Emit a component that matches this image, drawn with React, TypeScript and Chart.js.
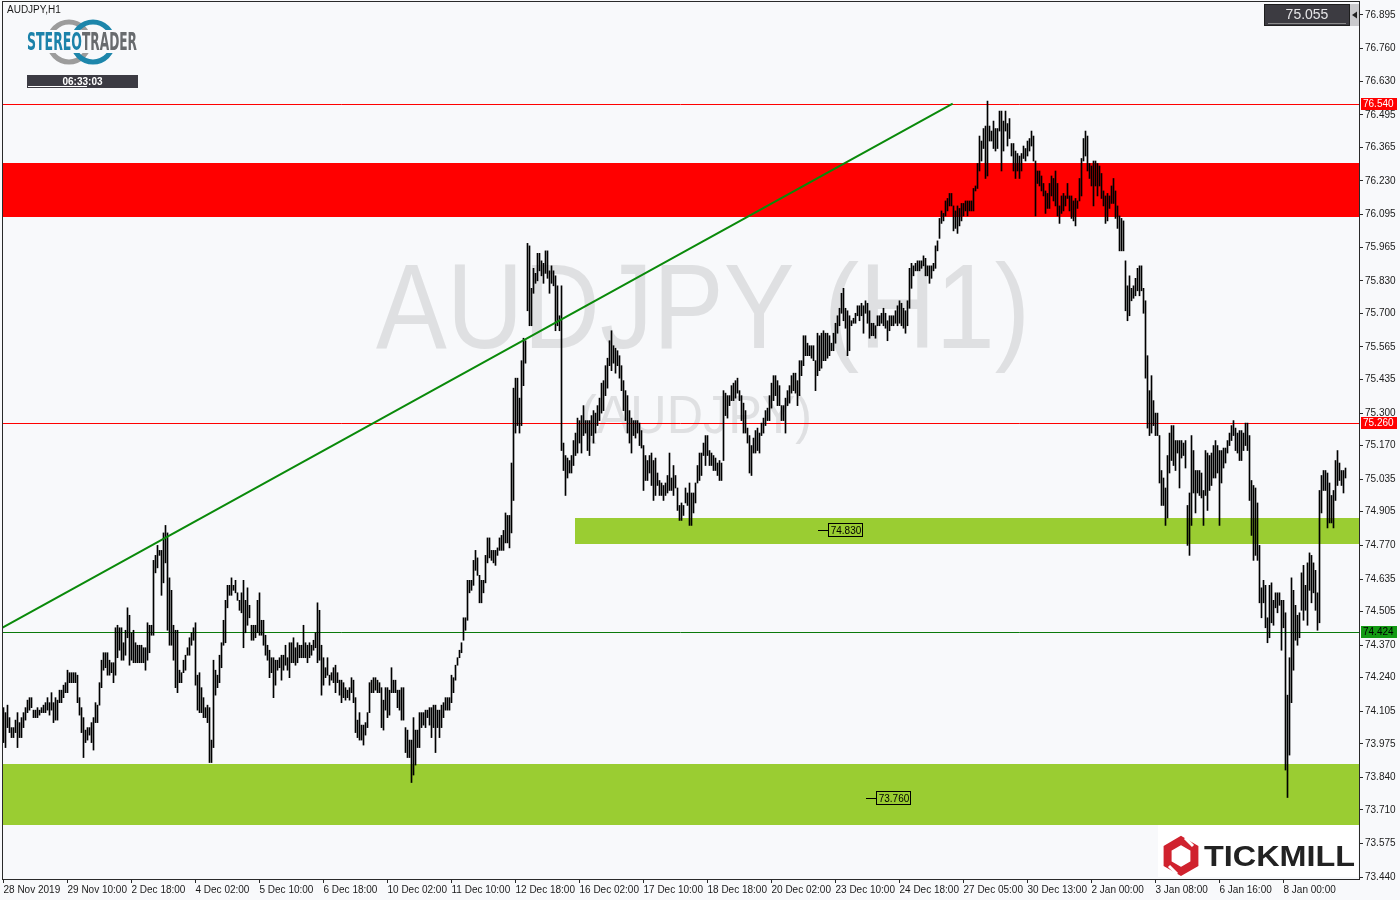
import React, { useEffect, useRef } from 'react';
import { Chart, registerables } from 'chart.js';

Chart.register(...registerables);

const BG = '#f8f9fb';
const FONT = '"Liberation Sans", Arial, sans-serif';

// x-axis tick labels, one every 32 hourly bars
const X_LABELS = [
  '28 Nov 2019', '29 Nov 10:00', '2 Dec 18:00', '4 Dec 02:00', '5 Dec 10:00', '6 Dec 18:00',
  '10 Dec 02:00', '11 Dec 10:00', '12 Dec 18:00', '16 Dec 02:00', '17 Dec 10:00', '18 Dec 18:00',
  '20 Dec 02:00', '23 Dec 10:00', '24 Dec 18:00', '27 Dec 05:00', '30 Dec 13:00', '2 Jan 00:00',
  '3 Jan 08:00', '6 Jan 16:00', '8 Jan 00:00',
];
const X_LABEL_BARS = [0, 32, 64, 96, 128, 160, 192, 224, 256, 288, 320, 352, 384, 416, 448, 480, 512, 544, 576, 608, 640];

// y-axis tick labels (price scale)
const Y_LABELS = [
  '76.895', '76.760', '76.630', '76.495', '76.365', '76.230', '76.095', '75.965', '75.830',
  '75.700', '75.565', '75.435', '75.300', '75.170', '75.035', '74.905', '74.770', '74.635',
  '74.505', '74.370', '74.240', '74.105', '73.975', '73.840', '73.710', '73.575', '73.440',
];

// H1 bar highs
const HI = [
  74.12, 74.10, 74.13, 74.08, 74.04, 74.04, 74.07, 74.10, 74.06, 74.08,
  74.10, 74.12, 74.15, 74.16, 74.16, 74.11, 74.11, 74.12, 74.11, 74.12,
  74.13, 74.14, 74.16, 74.14, 74.18, 74.14, 74.16, 74.15, 74.19, 74.19,
  74.21, 74.22, 74.27, 74.26, 74.26, 74.26, 74.26, 74.25, 74.16, 74.12,
  74.08, 74.03, 74.04, 74.04, 74.06, 74.08, 74.14, 74.13, 74.22, 74.31,
  74.34, 74.34, 74.34, 74.31, 74.30, 74.30, 74.44, 74.45, 74.44, 74.44,
  74.38, 74.43, 74.52, 74.49, 74.42, 74.43, 74.38, 74.37, 74.37, 74.37,
  74.36, 74.36, 74.46, 74.45, 74.45, 74.71, 74.73, 74.77, 74.75, 74.75,
  74.82, 74.85, 74.82, 74.64, 74.59, 74.45, 74.43, 74.43, 74.27, 74.26,
  74.31, 74.33, 74.36, 74.40, 74.42, 74.44, 74.46, 74.25, 74.26, 74.20,
  74.16, 74.12, 74.13, 74.12, 73.99, 74.31, 74.27, 74.25, 74.33, 74.38,
  74.47, 74.55, 74.61, 74.61, 74.64, 74.61, 74.63, 74.58, 74.55, 74.58,
  74.63, 74.55, 74.60, 74.53, 74.45, 74.45, 74.45, 74.55, 74.58, 74.47,
  74.47, 74.41, 74.37, 74.35, 74.32, 74.32, 74.31, 74.31, 74.32, 74.33,
  74.33, 74.37, 74.32, 74.38, 74.38, 74.40, 74.36, 74.38, 74.37, 74.37,
  74.45, 74.38, 74.37, 74.38, 74.37, 74.39, 74.42, 74.54, 74.51, 74.37,
  74.32, 74.28, 74.32, 74.25, 74.26, 74.28, 74.29, 74.26, 74.23, 74.23,
  74.22, 74.20, 74.19, 74.20, 74.24, 74.23, 74.16, 74.07, 74.10, 74.05,
  74.05, 74.06, 74.10, 74.22, 74.23, 74.24, 74.24, 74.23, 74.22, 74.20,
  74.15, 74.20, 74.20, 74.19, 74.28, 74.23, 74.23, 74.19, 74.19, 74.20,
  74.20, 74.04, 74.03, 73.99, 73.99, 74.08, 74.03, 74.03, 74.10, 74.10,
  74.10, 74.11, 74.11, 74.12, 74.12, 74.13, 74.13, 74.11, 74.11, 74.13,
  74.14, 74.16, 74.16, 74.16, 74.25, 74.24, 74.29, 74.32, 74.35, 74.38,
  74.48, 74.48, 74.63, 74.63, 74.63, 74.71, 74.75, 74.72, 74.65, 74.63,
  74.63, 74.73, 74.80, 74.80, 74.75, 74.75, 74.75, 74.76, 74.80, 74.81,
  74.83, 74.90, 74.89, 74.89, 75.10, 75.40, 75.44, 75.44, 75.36, 75.51,
  75.60, 75.59, 75.98, 75.97, 75.80, 75.88, 75.86, 75.94, 75.94, 75.91,
  75.90, 75.95, 75.95, 75.87, 75.89, 75.87, 75.85, 75.81, 75.69, 75.81,
  75.18, 75.13, 75.12, 75.11, 75.13, 75.19, 75.22, 75.28, 75.27, 75.29,
  75.33, 75.27, 75.27, 75.27, 75.29, 75.31, 75.30, 75.33, 75.36, 75.42,
  75.43, 75.49, 75.52, 75.59, 75.63, 75.57, 75.56, 75.55, 75.53, 75.49,
  75.43, 75.39, 75.37, 75.31, 75.28, 75.27, 75.27, 75.27, 75.26, 75.23,
  75.17, 75.13, 75.11, 75.13, 75.14, 75.11, 75.12, 75.06, 75.03, 75.02,
  75.01, 75.02, 75.05, 75.14, 75.04, 75.09, 75.05, 75.00, 74.93, 74.94,
  74.93, 75.00, 74.98, 75.02, 74.98, 74.98, 75.02, 75.09, 75.14, 75.14,
  75.18, 75.21, 75.21, 75.15, 75.14, 75.13, 75.12, 75.10, 75.11, 75.10,
  75.39, 75.38, 75.37, 75.37, 75.41, 75.42, 75.43, 75.44, 75.39, 75.37,
  75.34, 75.31, 75.24, 75.21, 75.17, 75.20, 75.23, 75.24, 75.22, 75.26,
  75.28, 75.31, 75.32, 75.37, 75.42, 75.45, 75.45, 75.43, 75.41, 75.33,
  75.33, 75.36, 75.39, 75.41, 75.45, 75.46, 75.46, 75.43, 75.51, 75.51,
  75.61, 75.61, 75.58, 75.57, 75.57, 75.57, 75.51, 75.62, 75.61, 75.62,
  75.63, 75.62, 75.62, 75.61, 75.58, 75.62, 75.66, 75.69, 75.72, 75.78,
  75.80, 75.72, 75.71, 75.69, 75.67, 75.68, 75.70, 75.73, 75.73, 75.74,
  75.73, 75.75, 75.74, 75.71, 75.66, 75.66, 75.65, 75.69, 75.69, 75.70,
  75.72, 75.70, 75.67, 75.69, 75.69, 75.69, 75.71, 75.73, 75.75, 75.74,
  75.72, 75.71, 75.75, 75.88, 75.90, 75.89, 75.90, 75.91, 75.91, 75.91,
  75.93, 75.92, 75.89, 75.89, 75.89, 75.90, 75.97, 75.99, 76.08, 76.11,
  76.10, 76.15, 76.16, 76.18, 76.18, 76.13, 76.11, 76.13, 76.12, 76.14,
  76.14, 76.15, 76.15, 76.15, 76.15, 76.20, 76.21, 76.30, 76.41, 76.39,
  76.44, 76.45, 76.55, 76.45, 76.43, 76.47, 76.44, 76.44, 76.51, 76.51,
  76.47, 76.51, 76.46, 76.48, 76.38, 76.38, 76.35, 76.34, 76.33, 76.34,
  76.37, 76.36, 76.39, 76.40, 76.43, 76.41, 76.31, 76.27, 76.27, 76.25,
  76.22, 76.19, 76.18, 76.22, 76.25, 76.24, 76.27, 76.22, 76.13, 76.17,
  76.18, 76.17, 76.22, 76.17, 76.17, 76.15, 76.16, 76.15, 76.24, 76.32,
  76.40, 76.43, 76.41, 76.30, 76.29, 76.31, 76.31, 76.30, 76.29, 76.26,
  76.19, 76.17, 76.18, 76.17, 76.21, 76.24, 76.19, 76.13, 76.09, 76.08,
  76.07, 75.91, 75.81, 75.85, 75.80, 75.81, 75.84, 75.88, 75.89, 75.89,
  75.80, 75.75, 75.53, 75.39, 75.45, 75.35, 75.30, 75.30, 75.21, 75.07,
  75.04, 75.00, 75.13, 75.22, 75.25, 75.25, 75.19, 75.19, 75.19, 75.19,
  75.18, 75.19, 74.93, 74.98, 75.21, 75.15, 75.07, 75.07, 75.07, 75.06,
  74.99, 75.15, 75.14, 75.13, 75.14, 75.17, 75.19, 75.17, 75.15, 75.15,
  75.16, 75.16, 75.19, 75.22, 75.25, 75.27, 75.24, 75.22, 75.23, 75.23,
  75.22, 75.26, 75.26, 75.21, 75.03, 75.01, 75.00, 74.94, 74.77, 74.60,
  74.63, 74.61, 74.48, 74.61, 74.62, 74.55, 74.58, 74.58, 74.58, 74.55,
  74.55, 74.50, 74.17, 74.32, 74.64, 74.59, 74.53, 74.49, 74.50, 74.66,
  74.69, 74.61, 74.70, 74.74, 74.73, 74.70, 74.67, 74.58, 74.99, 75.05,
  75.07, 75.07, 75.06, 75.02, 74.97, 74.99, 75.11, 75.15, 75.10, 75.07,
  75.07, 75.08,
];

// H1 bar lows
const LO = [
  73.98, 73.96, 74.04, 74.02, 74.00, 74.00, 74.02, 73.96, 74.00, 74.00,
  74.04, 74.07, 74.10, 74.11, 74.12, 74.08, 74.08, 74.08, 74.09, 74.10,
  74.10, 74.10, 74.11, 74.09, 74.11, 74.06, 74.07, 74.07, 74.14, 74.14,
  74.16, 74.18, 74.18, 74.22, 74.22, 74.22, 74.22, 74.14, 74.09, 74.02,
  73.92, 73.98, 73.99, 74.01, 73.98, 73.95, 74.06, 74.06, 74.13, 74.20,
  74.27, 74.28, 74.25, 74.25, 74.26, 74.22, 74.25, 74.32, 74.35, 74.31,
  74.31, 74.33, 74.40, 74.29, 74.31, 74.30, 74.30, 74.30, 74.30, 74.30,
  74.30, 74.27, 74.31, 74.34, 74.41, 74.41, 74.66, 74.68, 74.73, 74.57,
  74.62, 74.70, 74.43, 74.37, 74.37, 74.31, 74.20, 74.18, 74.22, 74.22,
  74.26, 74.27, 74.33, 74.33, 74.37, 74.39, 74.21, 74.11, 74.10, 74.10,
  74.08, 74.08, 74.06, 73.90, 73.90, 73.96, 74.17, 74.20, 74.22, 74.28,
  74.37, 74.38, 74.52, 74.57, 74.57, 74.59, 74.58, 74.55, 74.51, 74.50,
  74.36, 74.42, 74.45, 74.48, 74.39, 74.39, 74.40, 74.42, 74.41, 74.41,
  74.37, 74.33, 74.31, 74.24, 74.26, 74.16, 74.21, 74.27, 74.28, 74.23,
  74.27, 74.29, 74.27, 74.24, 74.30, 74.30, 74.29, 74.30, 74.32, 74.32,
  74.32, 74.32, 74.30, 74.32, 74.33, 74.35, 74.36, 74.30, 74.31, 74.17,
  74.21, 74.24, 74.25, 74.21, 74.23, 74.22, 74.18, 74.22, 74.17, 74.14,
  74.16, 74.15, 74.16, 74.15, 74.18, 74.14, 74.02, 74.00, 73.99, 73.99,
  73.97, 74.01, 74.04, 74.10, 74.18, 74.18, 74.19, 74.18, 74.18, 74.04,
  74.03, 74.11, 74.08, 74.09, 74.18, 74.18, 74.18, 74.12, 74.11, 74.07,
  74.07, 73.94, 73.92, 73.92, 73.82, 73.85, 73.89, 73.96, 73.96, 74.04,
  74.05, 74.04, 74.08, 74.05, 74.00, 74.04, 73.94, 74.04, 74.00, 74.04,
  74.08, 74.11, 74.11, 74.11, 74.14, 74.18, 74.23, 74.29, 74.32, 74.34,
  74.39, 74.43, 74.47, 74.58, 74.59, 74.61, 74.67, 74.65, 74.54, 74.54,
  74.58, 74.62, 74.70, 74.72, 74.71, 74.70, 74.69, 74.73, 74.75, 74.75,
  74.75, 74.78, 74.78, 74.76, 74.82, 74.95, 75.22, 75.25, 75.22, 75.25,
  75.41, 75.50, 75.71, 75.65, 75.65, 75.78, 75.82, 75.83, 75.87, 75.85,
  75.82, 75.86, 75.84, 75.78, 75.82, 75.81, 75.63, 75.65, 75.63, 75.15,
  75.07, 74.97, 75.04, 75.06, 75.06, 75.09, 75.13, 75.14, 75.18, 75.14,
  75.21, 75.22, 75.15, 75.13, 75.21, 75.18, 75.22, 75.25, 75.27, 75.30,
  75.31, 75.37, 75.40, 75.49, 75.47, 75.50, 75.46, 75.49, 75.44, 75.39,
  75.31, 75.27, 75.22, 75.18, 75.14, 75.21, 75.20, 75.22, 75.17, 75.16,
  74.99, 75.03, 75.03, 75.06, 75.01, 74.95, 74.97, 75.01, 74.97, 74.97,
  74.95, 74.97, 74.98, 74.99, 74.99, 74.97, 75.00, 74.91, 74.87, 74.87,
  74.89, 74.94, 74.93, 74.85, 74.85, 74.90, 74.94, 75.02, 75.03, 75.05,
  75.13, 75.09, 75.13, 75.09, 75.09, 75.07, 75.07, 75.05, 75.03, 75.03,
  75.11, 75.29, 75.28, 75.33, 75.35, 75.35, 75.36, 75.38, 75.35, 75.27,
  75.22, 75.22, 75.18, 75.06, 75.05, 75.14, 75.14, 75.15, 75.14, 75.21,
  75.22, 75.25, 75.27, 75.27, 75.32, 75.35, 75.37, 75.33, 75.33, 75.27,
  75.27, 75.22, 75.33, 75.34, 75.38, 75.39, 75.38, 75.33, 75.37, 75.45,
  75.49, 75.53, 75.53, 75.53, 75.52, 75.51, 75.39, 75.45, 75.47, 75.48,
  75.51, 75.51, 75.52, 75.53, 75.55, 75.55, 75.58, 75.62, 75.65, 75.70,
  75.67, 75.64, 75.53, 75.55, 75.65, 75.66, 75.66, 75.69, 75.67, 75.69,
  75.62, 75.70, 75.66, 75.60, 75.61, 75.61, 75.60, 75.65, 75.65, 75.66,
  75.65, 75.64, 75.59, 75.63, 75.65, 75.65, 75.66, 75.65, 75.66, 75.65,
  75.64, 75.62, 75.65, 75.72, 75.80, 75.85, 75.87, 75.87, 75.87, 75.88,
  75.89, 75.85, 75.85, 75.82, 75.84, 75.87, 75.88, 75.95, 76.00, 76.06,
  76.07, 76.09, 76.11, 76.13, 76.13, 76.03, 76.04, 76.02, 76.05, 76.07,
  76.09, 76.11, 76.09, 76.11, 76.11, 76.11, 76.19, 76.20, 76.27, 76.31,
  76.36, 76.24, 76.25, 76.39, 76.39, 76.36, 76.35, 76.36, 76.43, 76.27,
  76.35, 76.43, 76.37, 76.40, 76.33, 76.27, 76.24, 76.27, 76.24, 76.27,
  76.32, 76.31, 76.33, 76.35, 76.37, 76.31, 76.09, 76.22, 76.21, 76.19,
  76.17, 76.10, 76.12, 76.12, 76.17, 76.15, 76.13, 76.09, 76.06, 76.10,
  76.11, 76.13, 76.16, 76.11, 76.08, 76.07, 76.05, 76.12, 76.15, 76.17,
  76.31, 76.33, 76.27, 76.24, 76.21, 76.13, 76.21, 76.17, 76.21, 76.16,
  76.13, 76.06, 76.07, 76.12, 76.14, 76.14, 76.08, 76.04, 75.95, 75.95,
  75.95, 75.71, 75.67, 75.69, 75.75, 75.76, 75.77, 75.79, 75.77, 75.79,
  75.70, 75.44, 75.24, 75.21, 75.22, 75.25, 75.21, 75.21, 75.02, 74.93,
  74.93, 74.85, 74.88, 75.06, 75.11, 75.09, 75.07, 75.14, 75.00, 75.12,
  75.13, 75.08, 74.77, 74.73, 74.85, 74.98, 74.90, 74.98, 74.97, 74.96,
  74.85, 74.97, 74.91, 74.99, 75.01, 75.04, 75.04, 75.06, 74.85, 75.02,
  75.08, 75.10, 75.14, 75.17, 75.19, 75.21, 75.15, 75.14, 75.11, 75.11,
  75.15, 75.17, 75.15, 74.95, 74.81, 74.71, 74.73, 74.71, 74.54, 74.48,
  74.54, 74.44, 74.38, 74.40, 74.46, 74.45, 74.52, 74.50, 74.53, 74.35,
  74.44, 73.87, 73.76, 73.93, 74.14, 74.27, 74.39, 74.37, 74.40, 74.51,
  74.47, 74.51, 74.45, 74.59, 74.54, 74.58, 74.51, 74.43, 74.46, 74.90,
  74.99, 74.99, 74.84, 74.86, 74.86, 74.84, 74.95, 75.01, 75.03, 75.01,
  74.98, 75.04,
];

// horizontal levels
const LEVELS = [76.54, 75.26, 74.424];
const LEVEL_LABELS = ['76.540', '75.260', '74.424'];
// zones [top, bottom]
const RED_ZONE = [76.302, 76.086];
const GREEN_ZONE_MID = [74.88, 74.776];
const GREEN_ZONE_MID_START_BAR = 286;
const GREEN_ZONE_LOW = [73.894, 73.65];
const ZONE_LABEL_VALUES = [74.83, 73.76];
const ZONE_LABEL_TEXTS = ['74.830', '73.760'];
const ZONE_LABEL_BARS = [412, 436];
// trend line (bar index, price)
const TREND_BARS = [-0.5, 474.6];
const TREND_PRICES = [74.441, 76.54];
const LAST_PRICE = '75.055';

const overlayPlugin = {
  id: 'mtOverlay',
  beforeDraw(chart: any) {
    const { ctx } = chart;
    ctx.save();
    ctx.fillStyle = BG;
    ctx.fillRect(0, 0, chart.width, chart.height);
    ctx.restore();
  },
  beforeDatasetsDraw(chart: any) {
    const { ctx, chartArea: a, scales } = chart;
    const x = scales.x;
    const y = scales.y;
    ctx.save();
    ctx.beginPath();
    ctx.rect(a.left, a.top, a.right - a.left, a.bottom - a.top);
    ctx.clip();
    // watermark
    ctx.fillStyle = '#dfe0e2';
    ctx.textAlign = 'center';
    ctx.textBaseline = 'alphabetic';
    ctx.font = `120px ${FONT}`;
    ctx.fillText('AUDJPY (H1)', 703, 348, 654);
    ctx.font = `54px ${FONT}`;
    ctx.fillText('(AUDJPY)', 696, 433, 232);
    // zones
    const zone = (tb: number[], left: number, color: string) => {
      const y0 = Math.round(y.getPixelForValue(tb[0]));
      const y1 = Math.round(y.getPixelForValue(tb[1]));
      ctx.fillStyle = color;
      ctx.fillRect(left, y0, a.right - left, y1 - y0);
    };
    zone(RED_ZONE, a.left, '#ff0000');
    zone(GREEN_ZONE_MID, Math.round(x.getPixelForValue(GREEN_ZONE_MID_START_BAR) - 0.5), '#9acd32');
    zone(GREEN_ZONE_LOW, a.left, '#9acd32');
    // horizontal lines
    const colors = ['#ff0000', '#ff0000', '#0b7a0b'];
    LEVELS.forEach((v, i) => {
      const py = Math.round(y.getPixelForValue(v)) + 0.5;
      ctx.strokeStyle = colors[i];
      ctx.lineWidth = 1;
      ctx.beginPath();
      ctx.moveTo(a.left, py);
      ctx.lineTo(a.right, py);
      ctx.stroke();
    });
    ctx.restore();
  },
  afterDatasetsDraw(chart: any) {
    const { ctx, scales } = chart;
    const x = scales.x;
    const y = scales.y;
    ctx.save();
    ctx.font = `10px ${FONT}`;
    ctx.textAlign = 'center';
    ctx.textBaseline = 'middle';
    ZONE_LABEL_VALUES.forEach((v, i) => {
      const px = Math.round(x.getPixelForValue(ZONE_LABEL_BARS[i]));
      const py = Math.round(y.getPixelForValue(v));
      ctx.strokeStyle = '#000';
      ctx.lineWidth = 1;
      ctx.beginPath();
      ctx.moveTo(px - 10, py + 0.5);
      ctx.lineTo(px, py + 0.5);
      ctx.stroke();
      ctx.strokeRect(px + 0.5, py - 6.5, 34, 13);
      ctx.fillStyle = '#000';
      ctx.fillText(ZONE_LABEL_TEXTS[i], px + 18, py + 1);
    });
    ctx.restore();
  },
  afterDraw(chart: any) {
    const { ctx, chartArea: a, scales } = chart;
    const y = scales.y;
    ctx.save();
    // frame
    ctx.strokeStyle = '#2a2a2a';
    ctx.lineWidth = 1;
    ctx.strokeRect(a.left + 0.5, a.top - 0.5, a.right - a.left, a.bottom - a.top + 1);
    // level badges on price axis
    const bg = ['#ff0000', '#ff0000', '#139a13'];
    const fg = ['#ffffff', '#ffffff', '#000000'];
    ctx.font = `10px ${FONT}`;
    ctx.textAlign = 'left';
    ctx.textBaseline = 'middle';
    LEVELS.forEach((v, i) => {
      const py = Math.round(y.getPixelForValue(v));
      ctx.fillStyle = bg[i];
      ctx.fillRect(a.right + 2, py - 6, 36, 12);
      ctx.fillStyle = fg[i];
      ctx.fillText(LEVEL_LABELS[i], a.right + 4, py + 0.5);
    });
    // last price box
    const bx = a.right - 95;
    ctx.fillStyle = '#3c3b41';
    ctx.fillRect(bx, 4, 86, 22);
    ctx.strokeStyle = '#1e1e1e';
    ctx.strokeRect(bx + 0.5, 4.5, 85, 21);
    ctx.strokeStyle = '#8a8a8a';
    ctx.beginPath();
    ctx.moveTo(bx + 4, 23.5);
    ctx.lineTo(bx + 82, 23.5);
    ctx.stroke();
    ctx.fillStyle = '#c9c9cc';
    ctx.fillRect(bx + 86, 4, 9, 22);
    ctx.fillStyle = '#222';
    ctx.beginPath();
    ctx.moveTo(bx + 88, 15);
    ctx.lineTo(bx + 93, 11.5);
    ctx.lineTo(bx + 93, 18.5);
    ctx.closePath();
    ctx.fill();
    ctx.fillStyle = '#e6e6e8';
    ctx.font = `14px ${FONT}`;
    ctx.textAlign = 'center';
    ctx.fillText(LAST_PRICE, bx + 43, 15);
    // symbol caption
    ctx.fillStyle = '#1a1a1a';
    ctx.font = `10px ${FONT}`;
    ctx.textAlign = 'left';
    ctx.fillText('AUDJPY,H1', 7, 10);
    ctx.restore();
  },
};

export default function App() {
  const ref = useRef<HTMLCanvasElement | null>(null);

  useEffect(() => {
    const canvas = ref.current;
    if (!canvas) return;
    const bars = HI.map((h, i) => ({ x: i, y: [LO[i], h] }));
    const trend = TREND_BARS.map((b, i) => ({ x: b, y: TREND_PRICES[i] }));
    const chart = new Chart(canvas, {
      type: 'bar',
      data: {
        datasets: [
          {
            type: 'line',
            data: trend,
            borderColor: '#0a8a0a',
            borderWidth: 2,
            pointRadius: 0,
            order: 0,
          } as any,
          {
            type: 'bar',
            data: bars,
            backgroundColor: '#000000',
            borderWidth: 0,
            barThickness: 1,
            order: 1,
          } as any,
        ],
      },
      options: {
        responsive: false,
        animation: false,
        devicePixelRatio: 1,
        events: [],
        layout: { padding: { left: 2, top: 2, right: 0, bottom: 0 } },
        plugins: { legend: { display: false }, tooltip: { enabled: false } },
        scales: {
          x: {
            type: 'linear',
            min: -0.75,
            max: 677.75,
            offset: false,
            bounds: 'data',
            afterBuildTicks: (s: any) => {
              s.ticks = X_LABEL_BARS.map((v) => ({ value: v }));
            },
            afterFit: (s: any) => {
              s.height = 21;
              s.paddingLeft = 0;
              s.paddingRight = 0;
            },
            ticks: {
              callback: (_v: any, i: number) => X_LABELS[i],
              align: 'start',
              maxRotation: 0,
              minRotation: 0,
              autoSkip: false,
              padding: 1,
              color: '#1a1a1a',
              font: { family: FONT, size: 10 },
            },
            grid: { drawOnChartArea: false, drawTicks: true, tickLength: 4, color: '#2a2a2a', offset: false },
            border: { display: false },
          },
          y: {
            type: 'linear',
            position: 'right',
            min: 73.4335,
            max: 76.947,
            bounds: 'data',
            afterBuildTicks: (s: any) => {
              s.ticks = Y_LABELS.map((t) => ({ value: parseFloat(t) }));
            },
            afterFit: (s: any) => {
              s.width = 41;
              s.paddingTop = 0;
              s.paddingBottom = 0;
            },
            ticks: {
              callback: (_v: any, i: number) => Y_LABELS[i],
              padding: 2,
              color: '#1a1a1a',
              font: { family: FONT, size: 10 },
            },
            grid: { drawOnChartArea: false, drawTicks: true, tickLength: 4, color: '#2a2a2a' },
            border: { display: false },
          },
        },
      } as any,
      plugins: [overlayPlugin],
    });
    return () => chart.destroy();
  }, []);

  const hex = (cx: number, cy: number, r: number) =>
    [0, 1, 2, 3, 4, 5]
      .map((k) => {
        const ang = ((-90 + 60 * k) * Math.PI) / 180;
        return `${(cx + r * Math.cos(ang)).toFixed(1)},${(cy + r * Math.sin(ang)).toFixed(1)}`;
      })
      .join(' ');

  return (
    <div style={{ position: 'absolute', left: 0, top: 0, width: 1400, height: 900, background: BG, overflow: 'hidden' }}>
      <canvas ref={ref} width={1400} height={900} style={{ display: 'block', width: 1400, height: 900 }} />
      <svg width={1400} height={900} style={{ position: 'absolute', left: 0, top: 0, pointerEvents: 'none' }}>
        {/* STEREOTRADER logo */}
        <circle cx={69} cy={42} r={20} fill="none" stroke="#9c9c9c" strokeWidth={5} />
        <circle cx={93} cy={42} r={20} fill="none" stroke="#1d86ab" strokeWidth={5} />
        <rect x={25} y={30} width={115} height={23} fill={BG} />
        <text x={27} y={50} fontFamily={'"DejaVu Sans Condensed", "DejaVu Sans", sans-serif'} fontWeight="bold" fontSize={24} fill="#1b82aa" textLength={55} lengthAdjust="spacingAndGlyphs">STEREO</text>
        <text x={82} y={50} fontFamily={'"DejaVu Sans Condensed", "DejaVu Sans", sans-serif'} fontWeight="bold" fontSize={24} fill="#686b6e" textLength={55} lengthAdjust="spacingAndGlyphs">TRADER</text>
        <rect x={27} y={75} width={111} height={13} fill="#3c3b43" />
        <rect x={28} y={86} width={59} height={1} fill="#ffffff" />
        <text x={82.5} y={85} textAnchor="middle" fontFamily={FONT} fontWeight="bold" fontSize={10} fill="#ffffff">06:33:03</text>
        {/* TICKMILL logo */}
        <rect x={1158} y={825} width={200} height={52} fill="#ffffff" />
        <polygon points={hex(1181, 856, 15.5)} fill="none" stroke="#d0222e" strokeWidth={8} strokeLinejoin="miter" />
        <line x1={1185} y1={838} x2={1193} y2={846} stroke="#ffffff" strokeWidth={3} />
        <line x1={1169} y1={866} x2={1177} y2={874} stroke="#ffffff" strokeWidth={3} />
        <text x={1204} y={866} fontFamily={FONT} fontWeight="bold" fontSize={29} fill="#222222" textLength={151} lengthAdjust="spacingAndGlyphs">TICKMILL</text>
      </svg>
    </div>
  );
}
